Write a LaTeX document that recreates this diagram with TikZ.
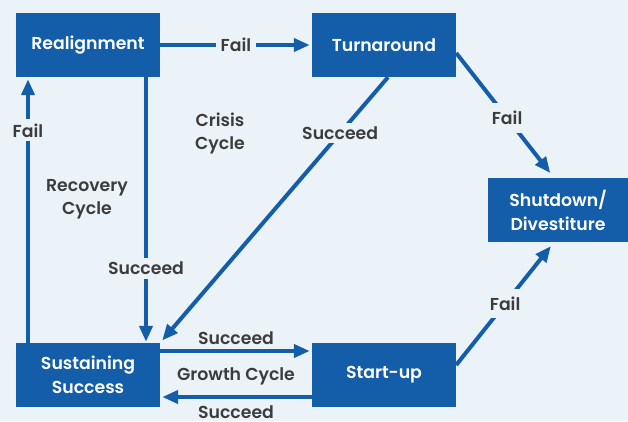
\documentclass[tikz,border=0pt]{standalone}
\usepackage{fontspec}
\setmainfont{Poppins}[BoldFont={Poppins SemiBold}]
\usetikzlibrary{arrows.meta}
\definecolor{bg}{HTML}{EBF3F8}
\definecolor{boxblue}{HTML}{145DA9}
\definecolor{lbl}{HTML}{3C3C3C}
\tikzset{
  box/.style={fill=boxblue, text=white, font=\fontsize{17.3}{24}\selectfont\bfseries, minimum width=144pt, minimum height=64pt, inner sep=0pt, align=center},
  conn/.style={draw=boxblue, line width=4pt, -{Triangle[length=16pt,width=13pt]}},
  lab/.style={text=lbl, font=\fontsize{17.3}{23}\selectfont\bfseries, fill=bg, inner xsep=5pt, inner ysep=4pt, align=center},
  free/.style={text=lbl, font=\fontsize{17.3}{23}\selectfont\bfseries, align=center}
}
\begin{document}
\begin{tikzpicture}[x=1pt,y=-1pt]
\fill[bg] (0,0) rectangle (628,421);
\useasboundingbox (0,0) rectangle (628,421);
\node[box] (real) at (88,45) {Realignment};
\node[box] (turn) at (384,45) {Turnaround};
\node[box, minimum width=140pt] (shut) at (558,210) {Shutdown/\\Divestiture};
\node[box] (sust) at (88,375) {Sustaining\\Success};
\node[box] (start) at (384,375) {Start-up};

\draw[conn, shorten >=2pt] (real.east) -- node[lab] {Fail} (turn.west);
\draw[conn, shorten >=2pt] ([xshift=-60pt]sust.north) -- node[lab, pos=0.8] {Fail} ([xshift=-60pt]real.south);
\draw[conn, shorten >=1pt] ([xshift=58pt]real.south) -- node[lab, pos=0.72] {Succeed} ([xshift=58pt]sust.north);
\draw[conn, shorten >=3pt] ([xshift=4pt]turn.south) -- node[lab, pos=0.21, inner xsep=2pt] {Succeed} (sust.north east);
\draw[conn, shorten >=6pt] ([yshift=-8pt]turn.east) -- node[lab, pos=0.52, inner ysep=8pt] {Fail} ([xshift=-4pt]shut.north);
\draw[conn, shorten >=5pt] ([yshift=10pt]start.east) -- node[lab, pos=0.5, inner ysep=8pt] {Fail} ([xshift=-4pt]shut.south);
\draw[conn, shorten >=2pt] ([yshift=24pt]sust.east) -- node[free, above=1.5pt] {Succeed} ([yshift=24pt]start.west);
\draw[conn, shorten >=2pt] ([yshift=-22pt]start.west) -- node[free, below=3pt] {Succeed} ([yshift=-22pt]sust.east);

\node[free] (crisis) at (220,133) {Crisis\\Cycle};
\node[free] (recovery) at (87,199) {Recovery\\Cycle};
\node[free] (growth) at (236,376) {Growth Cycle};
\end{tikzpicture}
\end{document}
